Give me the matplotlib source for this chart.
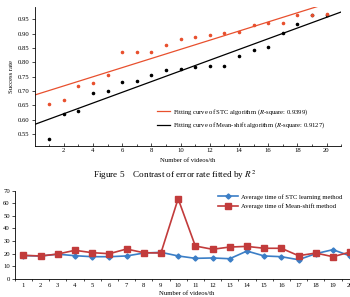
import numpy as np
import matplotlib
matplotlib.use('Agg')
import matplotlib.pyplot as plt

plt.rcParams['font.family'] = ['Liberation Serif', 'DejaVu Serif']
plt.rcParams['mathtext.fontset'] = 'stix'

# top chart: success rate per video
videos = np.arange(1, 21)
stc_rate = [0.655, 0.668, 0.717, 0.729, 0.755, 0.835, 0.835, 0.837, 0.860, 0.880,
            0.887, 0.895, 0.901, 0.907, 0.930, 0.936, 0.938, 0.965, 0.966, 0.967]
ms_rate = [0.531, 0.620, 0.631, 0.693, 0.701, 0.732, 0.735, 0.755, 0.773, 0.777,
           0.783, 0.786, 0.786, 0.822, 0.843, 0.852, 0.903, 0.933, 0.965, 0.966]

# bottom chart: average time per video
stc_time = [18.4, 18.0, 19.5, 18.3, 17.5, 17.5, 18.1, 20.4, 21.0, 18.1,
            16.2, 16.5, 15.9, 22.0, 18.1, 17.5, 15.1, 19.9, 23.1, 18.1]
ms_time = [18.6, 18.1, 19.6, 22.6, 20.7, 19.9, 23.6, 20.7, 20.4, 63.6,
           26.0, 23.4, 25.2, 25.7, 24.2, 24.2, 18.3, 20.4, 17.5, 21.2]

fs = 4.8
fig = plt.figure(figsize=(3.5, 2.97), dpi=100)

# ---- top chart ----
ax1 = fig.add_axes([0.0986, 0.5094, 0.876, 0.467])
xx = np.array([0, 21])
p_stc = np.polyfit(videos, stc_rate, 1)
p_ms = np.polyfit(videos, ms_rate, 1)
ax1.plot(xx, np.polyval(p_stc, xx), color='#e8502e', lw=0.9,
         label='Fitting curve of STC algorithm ($R$-square: 0.9399)')
ax1.plot(xx, np.polyval(p_ms, xx), color='black', lw=0.9,
         label='Fitting curve of Mean-shift algorithm ($R$-square: 0.9127)')
ax1.scatter(videos, ms_rate, s=2.5, color='black', zorder=3)
ax1.scatter(videos, stc_rate, s=2.5, color='#e8502e', zorder=4)
ax1.set_xlim(0, 21)
ax1.set_ylim(0.509, 0.993)
ax1.set_xticks(range(2, 21, 2))
ax1.set_xticks(range(1, 22, 2), minor=True)
ax1.set_yticks(np.arange(0.55, 0.96, 0.05))
ax1.yaxis.set_major_formatter(matplotlib.ticker.FormatStrFormatter('%.2f'))
for s in ['top', 'right']:
    ax1.spines[s].set_visible(False)
for s in ['left', 'bottom']:
    ax1.spines[s].set_linewidth(0.6)
ax1.tick_params(axis='x', direction='in', length=2, width=0.5, labelsize=fs, pad=2)
ax1.tick_params(axis='x', which='minor', direction='in', length=1.2, width=0.5)
ax1.tick_params(axis='y', direction='out', length=2, width=0.5, labelsize=fs, pad=1.5)
ax1.set_xlabel('Number of videos/th', fontsize=fs, labelpad=3)
ax1.set_ylabel('Success rate', fontsize=fs, labelpad=3)
ax1.legend(loc='upper left', bbox_to_anchor=(0.39, 0.30), frameon=False,
           fontsize=fs, handlelength=1.9, handletextpad=0.5, labelspacing=0.5,
           borderpad=0)

fig.text(0.5, 0.41, 'Figure 5    Contrast of error rate fitted by $R^2$',
         ha='center', va='center', fontsize=6.6)

# ---- bottom chart ----
ax2 = fig.add_axes([0.042, 0.0616, 0.983, 0.2963])
ax2.plot(videos, stc_time, color='#3b7ec6', lw=1.2, marker='D', ms=2.6,
         label='Average time of STC learning method')
ax2.plot(videos, ms_time, color='#c23b3b', lw=1.2, marker='s', ms=4.3,
         label='Average time of Mean-shift method')
ax2.set_xlim(0.5, 20.5)
ax2.set_ylim(0, 70)
ax2.set_xticks(range(1, 21))
ax2.set_xticks(np.arange(0.5, 21, 1), minor=True)
ax2.set_yticks(range(0, 71, 10))
for s in ['top', 'right']:
    ax2.spines[s].set_visible(False)
for s in ['left', 'bottom']:
    ax2.spines[s].set_linewidth(0.6)
ax2.tick_params(axis='x', length=0, labelsize=fs, pad=3)
ax2.tick_params(axis='x', which='minor', direction='out', length=1.5, width=0.5)
ax2.tick_params(axis='y', direction='out', length=2, width=0.5, labelsize=fs, pad=1.5)
ax2.set_xlabel('Number of videos/th', fontsize=fs, labelpad=2)
ax2.set_ylabel('Time/ms', fontsize=fs, labelpad=3)
ax2.legend(loc='upper left', bbox_to_anchor=(0.58, 1.0), frameon=False,
           fontsize=fs, handlelength=3.0, handletextpad=0.5, labelspacing=0.6,
           borderpad=0)

fig.savefig('out.png', dpi=100)
